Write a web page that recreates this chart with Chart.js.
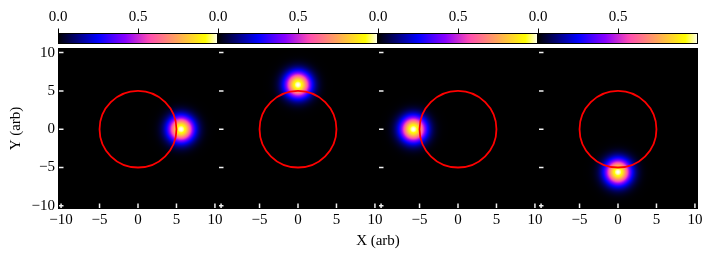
<!DOCTYPE html>
<html>
<head>
<meta charset="utf-8">
<script src="https://cdn.jsdelivr.net/npm/chart.js@4/dist/chart.umd.min.js"></script>
<style>
  html, body { margin: 0; padding: 0; background: #fff; }
  #wrap { position: relative; width: 712px; height: 257px; }
  .panel { position: absolute; left: 0; top: 0; width: 712px; height: 257px; }
  #xlabel {
    position: absolute; left: 58px; top: 231px; width: 640px;
    text-align: center; font: 15px "Liberation Serif", serif; line-height: 18px; color: #000;
  }
</style>
</head>
<body>
<div id="wrap">
  <div class="panel"><canvas id="c0"></canvas></div>
  <div class="panel"><canvas id="c1"></canvas></div>
  <div class="panel"><canvas id="c2"></canvas></div>
  <div class="panel"><canvas id="c3"></canvas></div>
  <div id="xlabel">X (arb)</div>
</div>
<script>
// blob centre for each of the four panels (arb units)
const blobX = [5.6, 0, -5.8, 0];
const blobY = [0, 5.8, 0, -5.6];
const blobPeak = [1.0, 1.0, 1.0, 1.0];
const blobSigma = 1.15;
// red reference circle
const ringX = [0, 0, 0, 0];
const ringY = [0, 0, 0, 0];
const ringRadius = 5;
// ticks
const axisTicks = [-10, -5, 0, 5, 10];
const cbarTicks = [0, 0.5];
const xMin = -10.4, xMax = 10.4;
const yMin = -10.42, yMax = 10.6;

const serif = '"Liberation Serif", "Times New Roman", serif';
const fontSize = 15;

// matplotlib gnuplot2 colour map
function gnuplot2(v) {
    const c = x => Math.max(0, Math.min(1, x));
    const r = c(v / 0.32 - 0.78125);
    const g = c(2 * v - 0.84);
    let b;
    if (v < 0.25) b = 4 * v;
    else if (v < 0.92) b = -2 * v + 1.84;
    else b = v / 0.08 - 11.5;
    b = c(b);
    return 'rgb(' + Math.round(r * 255) + ',' + Math.round(g * 255) + ',' + Math.round(b * 255) + ')';
}

const fmt = v => (v < 0 ? '\u2212' + Math.abs(v) : String(v));

const panelArt = {
    id: 'panelArt',
    beforeDatasetsDraw(chart, args, opts) {
        const { ctx, chartArea: a, scales: { x, y } } = chart;
        ctx.save();
        ctx.fillStyle = '#000';
        ctx.fillRect(a.left, a.top, a.right - a.left, a.bottom - a.top);
        ctx.beginPath();
        ctx.rect(a.left, a.top, a.right - a.left, a.bottom - a.top);
        ctx.clip();

        // gaussian blob
        const b = chart.getDatasetMeta(0).data[0];
        const rx = Math.abs(x.getPixelForValue(blobSigma) - x.getPixelForValue(0));
        const ry = Math.abs(y.getPixelForValue(blobSigma) - y.getPixelForValue(0));
        const R = 4;
        ctx.save();
        ctx.translate(b.x, b.y);
        ctx.scale(rx, ry);
        const grad = ctx.createRadialGradient(0, 0, 0, 0, 0, R);
        for (let k = 0; k <= 40; k++) {
            const t = k / 40;
            const r = t * R;
            grad.addColorStop(t, gnuplot2(opts.peak * Math.exp(-r * r / 2)));
        }
        ctx.fillStyle = grad;
        ctx.beginPath();
        ctx.arc(0, 0, R, 0, Math.PI * 2);
        ctx.fill();
        ctx.restore();

        // red circle
        const c = chart.getDatasetMeta(1).data[0];
        const crx = Math.abs(x.getPixelForValue(ringRadius) - x.getPixelForValue(0));
        const cry = Math.abs(y.getPixelForValue(ringRadius) - y.getPixelForValue(0));
        ctx.strokeStyle = '#ff0000';
        ctx.lineWidth = 1.8;
        ctx.beginPath();
        ctx.ellipse(c.x, c.y, crx, cry, 0, 0, Math.PI * 2);
        ctx.stroke();
        ctx.restore();
    },
    afterDraw(chart) {
        const { ctx, chartArea: a, scales: { x, y, cb } } = chart;
        ctx.save();
        // white inner tick marks
        ctx.strokeStyle = '#f0f0f0';
        ctx.lineWidth = 1.5;
        ctx.beginPath();
        axisTicks.forEach(v => {
            const py = y.getPixelForValue(v);
            ctx.moveTo(a.left + 1, py);
            ctx.lineTo(a.left + 5.5, py);
            const px = x.getPixelForValue(v);
            ctx.moveTo(px, a.bottom - 1);
            ctx.lineTo(px, a.bottom - 5.5);
        });
        ctx.stroke();

        // colour bar
        const top = a.top - 15, h = 11;
        const g = ctx.createLinearGradient(cb.left, 0, cb.right, 0);
        for (let k = 0; k <= 50; k++) {
            const v = cb.getValueForPixel(cb.left + (cb.right - cb.left) * k / 50);
            g.addColorStop(k / 50, gnuplot2(v));
        }
        ctx.fillStyle = g;
        ctx.fillRect(cb.left, top, cb.right - cb.left, h);
        ctx.strokeStyle = '#000';
        ctx.lineWidth = 1;
        ctx.strokeRect(cb.left + 0.5, top + 0.5, cb.right - cb.left - 1, h - 1);
        ctx.beginPath();
        cbarTicks.forEach(v => {
            const px = Math.round(cb.getPixelForValue(v)) + 0.5;
            ctx.moveTo(px, top);
            ctx.lineTo(px, top - 4.5);
        });
        ctx.stroke();
        ctx.restore();
    }
};

function buildPanel(i) {
    const left = 58 + 160 * i;
    const right = left + 160;
    const first = i === 0;
    return new Chart(document.getElementById('c' + i), {
        type: 'scatter',
        data: {
            datasets: [
                { label: 'blob', data: [{ x: blobX[i], y: blobY[i] }], pointRadius: 0 },
                { label: 'ring', data: [{ x: ringX[i], y: ringY[i] }], pointRadius: 0 }
            ]
        },
        options: {
            responsive: true,
            maintainAspectRatio: false,
            animation: false,
            layout: { padding: { left: first ? 0 : left, right: 712 - right, top: 0, bottom: 0 } },
            plugins: {
                legend: { display: false },
                tooltip: { enabled: false },
                panelArt: { peak: blobPeak[i] }
            },
            scales: {
                x: {
                    type: 'linear', position: 'bottom', min: xMin, max: xMax,
                    grid: { display: false, drawTicks: false },
                    border: { display: false },
                    afterBuildTicks: s => { s.ticks = axisTicks.map(v => ({ value: v })); },
                    afterFit: s => { s.height = 48; },
                    ticks: {
                        autoSkip: false, maxRotation: 0, padding: 2.5, color: '#000',
                        font: { family: serif, size: fontSize },
                        callback: v => (!first && v === -10) ? '' : fmt(v)
                    }
                },
                cb: {
                    type: 'linear', axis: 'x', position: 'top', min: 0, max: 1,
                    grid: { display: false, drawTicks: false },
                    border: { display: false },
                    afterBuildTicks: s => { s.ticks = cbarTicks.map(v => ({ value: v })); },
                    afterFit: s => { s.height = 48; },
                    ticks: {
                        autoSkip: false, maxRotation: 0, padding: 21.5, color: '#000',
                        font: { family: serif, size: fontSize },
                        callback: v => v.toFixed(1)
                    }
                },
                y: {
                    type: 'linear', position: 'left', min: yMin, max: yMax,
                    display: first,
                    grid: { display: false, drawTicks: false },
                    border: { display: false },
                    afterBuildTicks: s => { s.ticks = axisTicks.map(v => ({ value: v })); },
                    afterFit: s => { s.width = first ? 58 : 0; },
                    title: {
                        display: first, text: 'Y (arb)', color: '#000',
                        font: { family: serif, size: fontSize }, padding: { top: 7, bottom: 0 }
                    },
                    ticks: {
                        autoSkip: false, padding: 3, color: '#000',
                        font: { family: serif, size: fontSize },
                        callback: v => fmt(v)
                    }
                }
            }
        },
        plugins: [panelArt]
    });
}

for (let i = 0; i < 4; i++) buildPanel(i);
</script>
</body>
</html>
